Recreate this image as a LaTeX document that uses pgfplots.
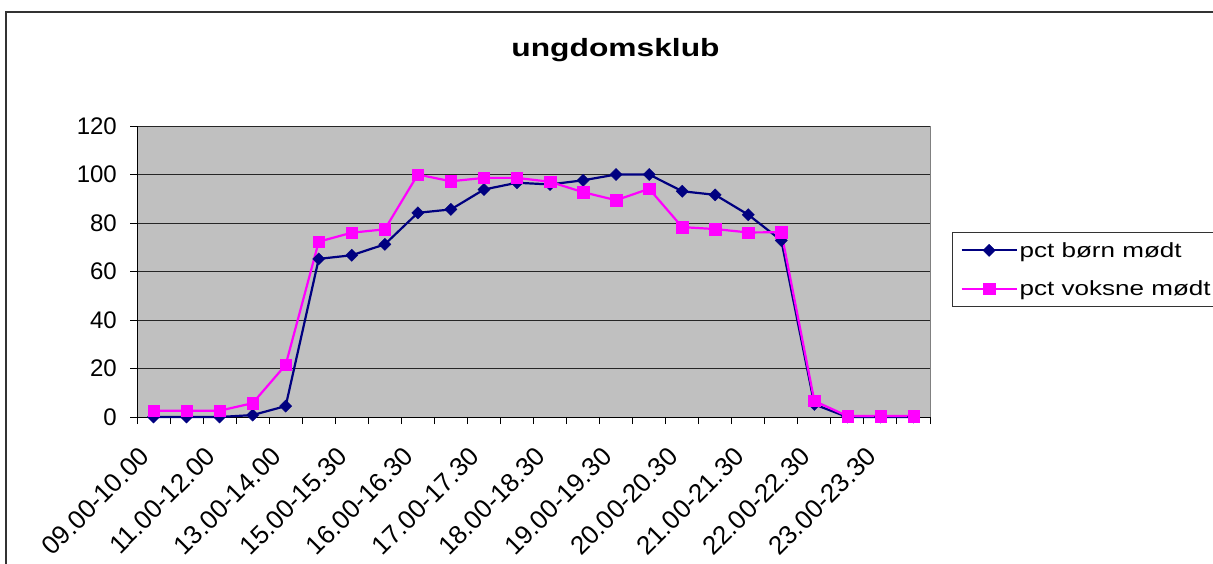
\documentclass[border=0pt]{standalone}
\usepackage{pgfplots}
\pgfplotsset{compat=1.18}
\usepackage{fontspec}
\setmainfont{Liberation Sans}
\definecolor{navyc}{RGB}{0,0,128}
\definecolor{magc}{RGB}{255,0,255}
\definecolor{bgc}{RGB}{192,192,192}
\begin{document}
\begin{tikzpicture}
\useasboundingbox (0pt,0pt) rectangle (1213pt,563pt);
\draw[black!80, line width=1.2pt] (6pt,-5pt) -- (6pt,551pt) -- (1220pt,551pt);
\node[font=\fontsize{25}{30}\selectfont\bfseries] at (615.5pt,513pt) {\scalebox{1.27}[1]{ungdomsklub}};
\begin{axis}[at={(137pt,146pt)}, anchor=south west, width=793pt, height=291pt, scale only axis, clip=false,
 xmin=-0.5, xmax=23.5, ymin=0, ymax=120,
 axis x line*=bottom, axis y line*=left,
 axis line style={black, line width=1pt},
 axis background/.style={fill=bgc, draw=black!50, line width=1pt},
 /pgf/number format/assume math mode=true,
 tick label style={font=\fontsize{24}{28}\selectfont},
 ytick={0,20,...,120}, ymajorgrids, grid style={black!85, line width=0.9pt},
 yticklabel style={anchor=east, inner sep=0pt},
 yticklabel shift=13pt,
 xtick={-0.5,0.5,...,23.5}, xticklabels={},
 extra x ticks={0,2,...,22},
 extra x tick labels={09.00-10.00,11.00-12.00,13.00-14.00,15.00-15.30,16.00-16.30,17.00-17.30,18.00-18.30,19.00-19.30,20.00-20.30,21.00-21.30,22.00-22.30,23.00-23.30},
 extra x tick style={major tick length=0pt, xticklabel style={font=\fontsize{26}{30}\selectfont, xshift=-9pt, rotate=45, anchor=east, inner sep=0pt}, xticklabel shift=35pt},
 tick align=outside, major tick length=7pt, tick style={black, line width=1pt},
 legend style={at={(1.0277,0.6368)}, anchor=north west, draw=black!80, line width=1pt, fill=white,
   font=\fontsize{20.5}{24}\selectfont, row sep=18pt, inner sep=8pt},
 legend cell align=left,
 legend image code/.code={\draw[mark repeat=2,mark phase=2] plot coordinates {(0pt,0pt) (27.5pt,0pt) (55pt,0pt)};},
]
\addplot[navyc, line width=2.2pt, mark=square*, mark size=4.3pt, mark options={rotate=45, line width=0.4pt, fill=navyc, solid}]
 coordinates {(0,0) (1,0) (2,0) (3,0.8) (4,4.5) (5,65.2) (6,66.7) (7,71.2) (8,84.2) (9,85.6) (10,93.8) (11,96.6) (12,95.9) (13,97.6) (14,100) (15,100) (16,93.1) (17,91.6) (18,83.4) (19,72.8) (20,5.2) (21,0) (22,0) (23,0)};
\addlegendentry{\scalebox{1.27}[1]{pct børn mødt}}
\addplot[magc, line width=2.2pt, mark=square*, mark size=5.7pt, mark options={line width=0.4pt, fill=magc, solid}]
 coordinates {(0,2.6) (1,2.6) (2,2.6) (3,5.7) (4,21.5) (5,72.3) (6,76) (7,77.4) (8,100) (9,97.2) (10,98.6) (11,98.6) (12,97) (13,92.7) (14,89.4) (15,94.1) (16,78.3) (17,77.5) (18,76.1) (19,76.2) (20,6.6) (21,0.4) (22,0.4) (23,0.4)};
\addlegendentry{\scalebox{1.27}[1]{pct voksne mødt}}
\end{axis}
\end{tikzpicture}
\end{document}
